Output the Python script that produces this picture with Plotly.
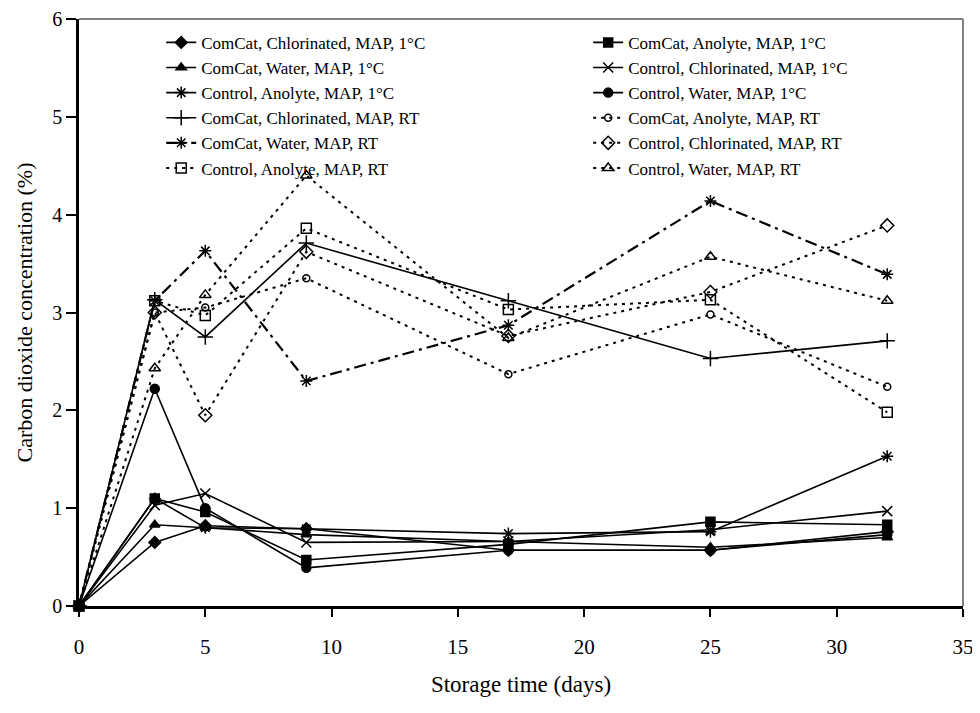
import plotly.graph_objects as go

days = [0, 3, 5, 9, 17, 25, 32]

series_names = [
    "ComCat, Chlorinated, MAP, 1°C",
    "ComCat, Water, MAP, 1°C",
    "Control, Anolyte, MAP, 1°C",
    "ComCat, Chlorinated, MAP, RT",
    "ComCat, Water, MAP, RT",
    "Control, Anolyte, MAP, RT",
    "ComCat, Anolyte, MAP, 1°C",
    "Control, Chlorinated, MAP, 1°C",
    "Control, Water, MAP, 1°C",
    "ComCat, Anolyte, MAP, RT",
    "Control, Chlorinated, MAP, RT",
    "Control, Water, MAP, RT",
]

comcat_chlor_1c = [0, 0.65, 0.82, 0.79, 0.57, 0.57, 0.76]
comcat_water_1c = [0, 0.83, 0.80, 0.73, 0.66, 0.60, 0.70]
control_anolyte_1c = [0, 1.10, 0.80, 0.79, 0.74, 0.76, 1.53]
comcat_chlor_rt = [0, 3.13, 2.75, 3.71, 3.12, 2.53, 2.71]
comcat_water_rt = [0, 3.12, 3.63, 2.30, 2.87, 4.14, 3.39]
control_anolyte_rt = [0, 3.12, 2.97, 3.86, 3.03, 3.13, 1.98]
comcat_anolyte_1c = [0, 1.10, 0.96, 0.47, 0.63, 0.86, 0.83]
control_chlor_1c = [0, 1.03, 1.15, 0.65, 0.66, 0.78, 0.97]
control_water_1c = [0, 2.22, 1.00, 0.39, 0.57, 0.57, 0.73]
comcat_anolyte_rt = [0, 3.00, 3.05, 3.35, 2.37, 2.98, 2.24]
control_chlor_rt = [0, 3.00, 1.95, 3.62, 2.76, 3.21, 3.89]
control_water_rt = [0, 2.43, 3.18, 4.40, 2.74, 3.57, 3.12]

x_ticks = [0, 5, 10, 15, 20, 25, 30, 35]
y_ticks = [0, 1, 2, 3, 4, 5, 6]

values = [
    comcat_chlor_1c, comcat_water_1c, control_anolyte_1c,
    comcat_chlor_rt, comcat_water_rt, control_anolyte_rt,
    comcat_anolyte_1c, control_chlor_1c, control_water_1c,
    comcat_anolyte_rt, control_chlor_rt, control_water_rt,
]

# (symbol, size, dash, line width, legend)
styles = [
    ("diamond", 9, "solid", 1.6, "legend"),
    ("triangle-up", 9, "solid", 1.6, "legend"),
    ("asterisk-open", 10, "solid", 1.6, "legend"),
    ("cross-thin-open", 11, "solid", 1.6, "legend"),
    ("asterisk-open", 10, "12px,5px,3px,5px", 2.2, "legend"),
    ("square-open", 10, "3px,5px", 2, "legend"),
    ("square", 9, "solid", 1.6, "legend2"),
    ("x-thin-open", 10, "solid", 1.6, "legend2"),
    ("circle", 9, "solid", 1.6, "legend2"),
    ("circle-open", 7, "3px,5px", 2, "legend2"),
    ("diamond-open", 10, "3px,5px", 2, "legend2"),
    ("triangle-up-open", 10, "3px,5px", 2, "legend2"),
]

fig = go.Figure()
for name, vals, (sym, size, dash, lw, lg) in zip(series_names, values, styles):
    fig.add_trace(go.Scatter(
        x=days, y=vals, name=name, mode="lines+markers", legend=lg,
        line=dict(color="black", width=lw, dash=dash),
        marker=dict(symbol=sym, size=size, color="black",
                    line=dict(color="black", width=1.5)),
        cliponaxis=False,
    ))

font_family = "Liberation Serif, Times New Roman, serif"
legend_common = dict(
    orientation="v", yanchor="top", xanchor="left", y=0.99,
    font=dict(family=font_family, size=17, color="black"),
    bgcolor="rgba(0,0,0,0)", borderwidth=0, tracegroupgap=0,
)

frame = dict(color="#808080", width=2)

# page body has an 8px margin: size the figure so the plot lands where the reference has it
fig.update_layout(
    width=964, height=697,
    margin=dict(l=71, r=9, t=11, b=99),
    paper_bgcolor="white", plot_bgcolor="white",
    font=dict(family=font_family, color="black", size=22),
    showlegend=True,
    legend=dict(x=0.093, **legend_common),
    legend2=dict(x=0.576, **legend_common),
    xaxis=dict(
        range=[0, 35], tickvals=x_ticks, ticktext=[str(v) for v in x_ticks],
        showline=True, linecolor="black", linewidth=2.5,
        ticks="outside", ticklen=8, tickwidth=2, tickcolor="black",
        showgrid=False, zeroline=False, automargin=False,
        ticklabelstandoff=12, ticklabeloverflow="allow",
        tickfont=dict(size=21),
        title=dict(text="Storage time (days)", font=dict(size=23), standoff=18),
    ),
    yaxis=dict(
        range=[0, 6], tickvals=y_ticks, ticktext=[str(v) for v in y_ticks],
        showline=True, linecolor="black", linewidth=2.5,
        ticks="outside", ticklen=10, tickwidth=2, tickcolor="black",
        showgrid=False, zeroline=False, automargin=False,
        ticklabelstandoff=0, ticklabeloverflow="allow",
        tickfont=dict(size=20),
        title=dict(text="Carbon dioxide concentration (%)", font=dict(size=22), standoff=14),
    ),
    shapes=[
        dict(type="line", xref="paper", yref="paper", x0=0, x1=1, y0=1, y1=1,
             line=frame, layer="above"),
        dict(type="line", xref="paper", yref="paper", x0=1, x1=1, y0=0, y1=1,
             line=frame, layer="above"),
    ],
)

fig.write_html("out.html")
